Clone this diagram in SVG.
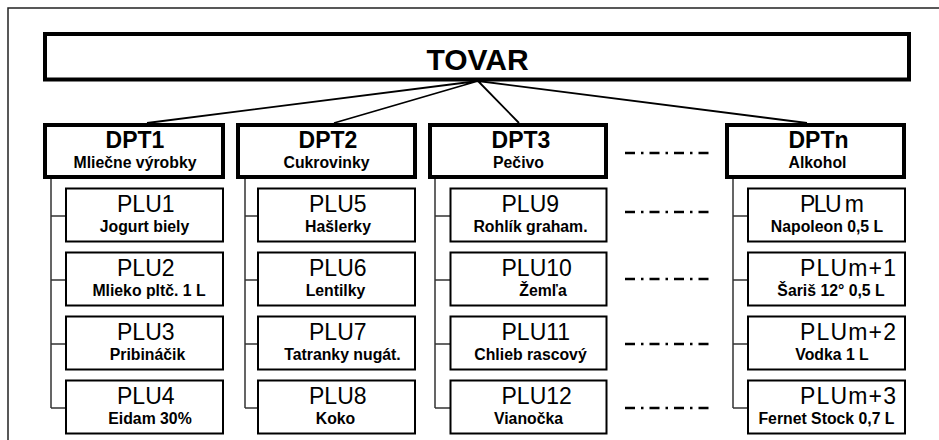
<svg xmlns="http://www.w3.org/2000/svg" width="939" height="440" viewBox="0 0 939 440">
<style>
text{font-family:"Liberation Sans",Arial,sans-serif;fill:#000}
.top{fill:#fff;stroke:#000;stroke-width:4}
.dpt{fill:#fff;stroke:#000;stroke-width:4}
.plu{fill:#fff;stroke:#000;stroke-width:2}
.tt{font-size:30px;font-weight:bold;text-anchor:middle}
.dt{font-size:23px;font-weight:bold;text-anchor:middle}
.pt{font-size:23px}
.st{font-size:15.8px;font-weight:bold;text-anchor:middle}
.link{stroke:#000;stroke-width:1.8;fill:none}
.tree{stroke:#333;stroke-width:1.5;fill:none}
.dash{stroke:#000;stroke-width:2.5;stroke-dasharray:10 6 2.5 6;fill:none}
</style>
<path d="M8,440 V8 H939" fill="none" stroke="#222" stroke-width="1.5"/>
<g id="connectors">
<path class="link" d="M478,81 L147,123 M478,81 L334,123 M478,81 L519,123 M478,81 L807,123"/>
<path class="tree" d="M51,179 V408 M51,216 H66 M51,280 H66 M51,344 H66 M51,408 H66"/>
<path class="tree" d="M245,179 V408 M245,216 H258 M245,280 H258 M245,344 H258 M245,408 H258"/>
<path class="tree" d="M435,179 V408 M435,216 H450 M435,280 H450 M435,344 H450 M435,408 H450"/>
<path class="tree" d="M733,179 V408 M733,216 H748 M733,280 H748 M733,344 H748 M733,408 H748"/>
<path class="dash" d="M625,153 H709 M625,212 H709 M625,279 H709 M625,344 H709 M625,408 H709"/>
</g>
<g id="tovar"><rect class="top" x="45" y="34" width="864" height="45.5"/><text class="tt" x="477.5" y="69.5">TOVAR</text></g>
<g id="dpt1"><rect class="dpt" x="45" y="125" width="178" height="52"/><text class="dt" x="135" y="148.3">DPT1</text><text class="st" x="135" y="168.3">Mliečne výrobky</text></g>
<g id="dpt2"><rect class="dpt" x="238" y="125" width="177" height="52"/><text class="dt" x="328" y="148.3">DPT2</text><text class="st" x="326.5" y="168.3">Cukrovinky</text></g>
<g id="dpt3"><rect class="dpt" x="430" y="125" width="176" height="52"/><text class="dt" x="521" y="148.3">DPT3</text><text class="st" x="518.5" y="168.3">Pečivo</text></g>
<g id="dptn"><rect class="dpt" x="727" y="125" width="177" height="52"/><text class="dt" x="818.5" y="148.3">DPTn</text><text class="st" x="817.5" y="168.3">Alkohol</text></g>
<g id="plu1"><rect class="plu" x="66" y="188.5" width="157" height="53"/><text class="pt" x="117" y="211.7">PLU1</text><text class="st" x="144.5" y="231.7">Jogurt biely</text></g>
<g id="plu2"><rect class="plu" x="66" y="252.5" width="157" height="53"/><text class="pt" x="117" y="275.7">PLU2</text><text class="st" x="149" y="295.7">Mlieko pltč. 1 L</text></g>
<g id="plu3"><rect class="plu" x="66" y="316.5" width="157" height="53"/><text class="pt" x="117" y="339.7">PLU3</text><text class="st" x="147.5" y="359.7">Pribináčik</text></g>
<g id="plu4"><rect class="plu" x="66" y="380.5" width="157" height="53"/><text class="pt" x="117" y="403.7">PLU4</text><text class="st" x="150" y="423.7">Eidam 30%</text></g>
<g id="plu5"><rect class="plu" x="258" y="188.5" width="157" height="53"/><text class="pt" x="309" y="211.7">PLU5</text><text class="st" x="338" y="231.7">Hašlerky</text></g>
<g id="plu6"><rect class="plu" x="258" y="252.5" width="157" height="53"/><text class="pt" x="309" y="275.7">PLU6</text><text class="st" x="335.5" y="295.7">Lentilky</text></g>
<g id="plu7"><rect class="plu" x="258" y="316.5" width="157" height="53"/><text class="pt" x="309" y="339.7">PLU7</text><text class="st" x="342.5" y="359.7">Tatranky nugát.</text></g>
<g id="plu8"><rect class="plu" x="258" y="380.5" width="157" height="53"/><text class="pt" x="309" y="403.7">PLU8</text><text class="st" x="335.5" y="423.7">Koko</text></g>
<g id="plu9"><rect class="plu" x="450.5" y="188.5" width="156" height="53"/><text class="pt" x="501.5" y="211.7">PLU9</text><text class="st" x="530.5" y="231.7">Rohlík graham.</text></g>
<g id="plu10"><rect class="plu" x="450.5" y="252.5" width="156" height="53"/><text class="pt" x="501.5" y="275.7">PLU10</text><text class="st" x="543" y="295.7">Žemľa</text></g>
<g id="plu11"><rect class="plu" x="450.5" y="316.5" width="156" height="53"/><text class="pt" x="501.5" y="339.7">PLU11</text><text class="st" x="530.5" y="359.7">Chlieb rascový</text></g>
<g id="plu12"><rect class="plu" x="450.5" y="380.5" width="156" height="53"/><text class="pt" x="501.5" y="403.7">PLU12</text><text class="st" x="528.5" y="423.7">Vianočka</text></g>
<g id="plum"><rect class="plu" x="748" y="188.5" width="157" height="53"/><text class="pt" x="800" y="211.7" textLength="64">PLU m</text><text class="st" x="827" y="231.7">Napoleon 0,5 L</text></g>
<g id="plum1"><rect class="plu" x="748" y="252.5" width="157" height="53"/><text class="pt" x="800" y="275.7" textLength="96">PLUm+1</text><text class="st" x="831" y="295.7">Šariš 12° 0,5 L</text></g>
<g id="plum2"><rect class="plu" x="748" y="316.5" width="157" height="53"/><text class="pt" x="800" y="339.7" textLength="96">PLUm+2</text><text class="st" x="832" y="359.7">Vodka 1 L</text></g>
<g id="plum3"><rect class="plu" x="748" y="380.5" width="157" height="53"/><text class="pt" x="800" y="403.7" textLength="96">PLUm+3</text><text class="st" x="826.5" y="423.7">Fernet Stock 0,7 L</text></g>
</svg>
